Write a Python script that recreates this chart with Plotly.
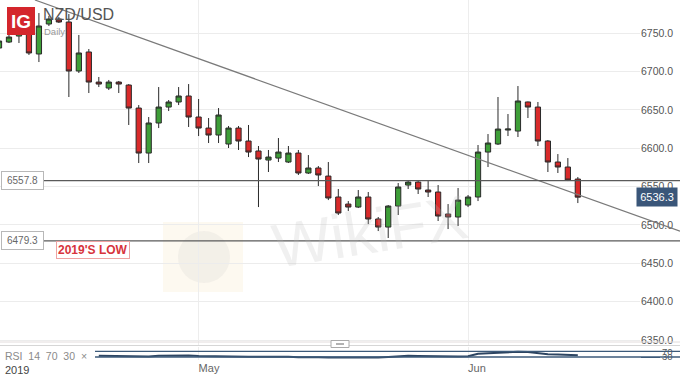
import plotly.graph_objects as go

# ---------------- data (NZD/USD daily, price x10000) ----------------
open_ = [6730.8, 6738.6, 6746.4, 6756.9, 6723.0, 6762.1, 6768.6, 6764.7, 6700.8, 6725.6,
         6686.4, 6678.6, 6686.4, 6682.5, 6652.5, 6593.8, 6633.0, 6653.8, 6660.4, 6668.2,
         6640.8, 6626.4, 6617.3, 6605.6, 6626.4, 6609.5, 6596.5, 6584.7, 6587.3, 6582.1,
         6593.8, 6567.8, 6574.3, 6563.8, 6536.5, 6527.3, 6523.4, 6536.5, 6507.8, 6497.3,
         6524.7, 6552.1, 6556.0, 6545.6, 6543.0, 6514.3, 6510.4, 6526.0, 6536.5, 6595.1,
         6605.6, 6623.8, 6622.5, 6660.4, 6653.8, 6609.5, 6582.1, 6575.6, 6559.9]
high = [6742.5, 6747.8, 6754.3, 6759.5, 6776.4, 6772.5, 6771.2, 6775.1, 6747.8, 6729.5,
        6693.0, 6689.1, 6687.8, 6683.8, 6656.4, 6640.8, 6679.9, 6663.0, 6679.9, 6683.8,
        6664.3, 6639.5, 6652.5, 6629.1, 6629.1, 6630.4, 6603.0, 6597.8, 6613.4, 6603.0,
        6597.8, 6591.2, 6576.9, 6582.1, 6546.9, 6531.2, 6545.6, 6543.0, 6510.4, 6526.0,
        6554.7, 6557.3, 6558.6, 6557.3, 6552.1, 6527.3, 6548.2, 6539.1, 6604.3, 6618.6,
        6666.9, 6644.7, 6681.2, 6661.0, 6660.4, 6610.8, 6592.5, 6587.3, 6562.5]
low = [6728.2, 6737.3, 6737.3, 6721.7, 6712.5, 6759.5, 6763.4, 6666.9, 6698.2, 6672.1,
       6679.9, 6676.0, 6672.1, 6630.4, 6580.8, 6580.8, 6626.4, 6648.6, 6656.4, 6627.8,
       6616.0, 6606.9, 6606.9, 6600.4, 6597.8, 6588.6, 6523.4, 6569.1, 6582.1, 6580.8,
       6565.2, 6566.5, 6550.8, 6532.5, 6513.0, 6518.2, 6522.1, 6501.2, 6492.1, 6483.0,
       6513.0, 6546.9, 6540.4, 6536.5, 6505.2, 6494.7, 6498.6, 6523.4, 6531.2, 6575.6,
       6604.3, 6616.0, 6614.7, 6639.5, 6603.0, 6569.1, 6567.8, 6557.3, 6528.6]
close = [6739.9, 6745.1, 6750.4, 6724.3, 6759.5, 6768.6, 6764.7, 6700.8, 6724.3, 6686.4,
         6683.8, 6686.4, 6683.8, 6652.5, 6593.8, 6633.0, 6653.8, 6660.4, 6668.2, 6640.8,
         6626.4, 6617.3, 6643.4, 6626.4, 6609.5, 6595.1, 6586.0, 6588.6, 6595.1, 6593.8,
         6567.8, 6574.3, 6565.2, 6535.2, 6515.6, 6523.4, 6536.5, 6507.8, 6497.3, 6524.7,
         6549.5, 6556.0, 6546.9, 6543.0, 6511.7, 6510.4, 6532.5, 6536.5, 6595.1, 6606.9,
         6625.1, 6625.1, 6661.7, 6653.8, 6609.5, 6582.1, 6575.6, 6558.6, 6536.3]
candle_idx = list(range(len(close)))

rsi_start = 10
rsi = [38, 36, 35, 33, 30, 33, 38, 40, 42, 40, 37, 35, 38,
       36, 34, 32, 31, 32, 33, 32, 29, 30, 28, 26, 25, 26, 28, 27, 26,
       30, 36, 38, 37, 36, 32, 31, 34, 36, 52, 56, 60, 61, 66,
       65, 56, 50, 48, 45, 42]
rsi_idx = list(range(rsi_start, rsi_start + len(rsi)))
rsi_levels = [30, 70]

price_ticks = [6350, 6400, 6450, 6500, 6550, 6600, 6650, 6700, 6750]
price_tick_text = ["%.1f" % v for v in price_ticks]
month_idx = [20, 47]
month_text = ["May", "Jun"]
year_text = "2019"

level_resist = 6557.8
level_low = 6479.3
low_text = "2019'S LOW"
last_price = 6536.3
trend_idx = [3.6, 61.2]
trend_price = [6793.4, 6524.7]

# ---------------- layout geometry ----------------
W, H = 680, 379
ML, MR, MT, MB = 0, 40, 0, 19
PW, PH = W - ML - MR, H - MT - MB
X_RANGE = [0.1, 64.23]
Y_RANGE = [6343.5, 6793.4]
RSI_RANGE = [8.9, 100.2]
MAIN_BOTTOM_PX = 345
RSI_TOP_PX = 347


def pxx(px):
    return (px - ML) / PW


def pxy(py):
    return (PH + MT - py) / PH


def idx_to_paper(i):
    return (i - X_RANGE[0]) / (X_RANGE[1] - X_RANGE[0])


FONT = "Arial, Liberation Sans, sans-serif"
GREEN = "#3e9e38"
RED = "#d92a2a"

fig = go.Figure()
fig.add_trace(go.Candlestick(
    x=candle_idx, open=open_, high=high, low=low, close=close,
    increasing=dict(fillcolor=GREEN, line=dict(color="#2a2a2a", width=1)),
    decreasing=dict(fillcolor=RED, line=dict(color="#2a2a2a", width=1)),
    whiskerwidth=0, hoverinfo="skip", showlegend=False,
    xaxis="x", yaxis="y"))
fig.add_trace(go.Scatter(
    x=rsi_idx, y=rsi, mode="lines", line=dict(color="#2d4562", width=2),
    hoverinfo="skip", showlegend=False, xaxis="x", yaxis="y2"))

shapes = []
# trendline, extended to the right edge of the page
slope = (trend_price[1] - trend_price[0]) / (trend_idx[1] - trend_idx[0])
x_end_paper = pxx(W)
i_end = X_RANGE[0] + x_end_paper * (X_RANGE[1] - X_RANGE[0])
shapes.append(dict(type="line", xref="paper", yref="y",
                   x0=idx_to_paper(trend_idx[0]), y0=trend_price[0],
                   x1=x_end_paper, y1=trend_price[0] + slope * (i_end - trend_idx[0]),
                   line=dict(color="#7a7a7a", width=1.2)))
for lv in (level_resist, level_low):
    shapes.append(dict(type="line", xref="paper", yref="y", x0=pxx(43), x1=pxx(W),
                       y0=lv, y1=lv, line=dict(color="#5a5a5a", width=1.2)))
for lv in rsi_levels:
    shapes.append(dict(type="line", xref="paper", yref="y2", x0=pxx(95), x1=pxx(W),
                       y0=lv, y1=lv, line=dict(color="#3c5a7a", width=1.3)))
# panel separator + handle
for py, col in ((342, "#e2dcdc"), (345.5, "#d6d6d6")):
    shapes.append(dict(type="line", xref="paper", yref="paper", x0=0, x1=pxx(W),
                       y0=pxy(py), y1=pxy(py), line=dict(color=col, width=1)))
shapes.append(dict(type="rect", xref="paper", yref="paper", x0=pxx(331), x1=pxx(349),
                   y0=pxy(347.5), y1=pxy(340.5), fillcolor="white",
                   line=dict(color="#aaaaaa", width=1)))
shapes.append(dict(type="line", xref="paper", yref="paper", x0=pxx(336), x1=pxx(344),
                   y0=pxy(344), y1=pxy(344), line=dict(color="#999999", width=1.5)))
# IG logo box
shapes.append(dict(type="rect", xref="paper", yref="paper", x0=pxx(7), x1=pxx(35),
                   y0=pxy(35), y1=pxy(7), fillcolor="#d4262c",
                   line=dict(width=0), layer="above"))
# faint watermark badge
shapes.append(dict(type="rect", xref="paper", yref="paper", x0=pxx(163), x1=pxx(243),
                   y0=pxy(292), y1=pxy(222), fillcolor="rgba(240,205,140,0.13)",
                   line=dict(width=0), layer="below"))
shapes.append(dict(type="circle", xref="paper", yref="paper", x0=pxx(178), x1=pxx(230),
                   y0=pxy(283), y1=pxy(231), fillcolor="rgba(190,190,190,0.15)",
                   line=dict(width=0), layer="below"))

ann = []
ann.append(dict(text="WikiFX", xref="paper", yref="paper", x=pxx(370), y=pxy(232),
                showarrow=False, textangle=-9,
                font=dict(family=FONT, size=62, color="rgba(185,185,185,0.22)"),
                xanchor="center", yanchor="middle"))
ann.append(dict(text="<b>IG</b>", xref="paper", yref="paper", x=pxx(21), y=pxy(21.5),
                showarrow=False, font=dict(family=FONT, size=19, color="white"),
                xanchor="center", yanchor="middle"))
ann.append(dict(text="NZD/USD", xref="paper", yref="paper", x=pxx(41), y=pxy(14.5),
                showarrow=False, font=dict(family=FONT, size=16, color="#555555"),
                xanchor="left", yanchor="middle"))
ann.append(dict(text="Daily", xref="paper", yref="paper", x=pxx(42), y=pxy(31),
                showarrow=False, font=dict(family=FONT, size=9.5, color="#9a9a9a"),
                xanchor="left", yanchor="middle"))
for lv in (level_resist, level_low):
    ann.append(dict(text="%.1f" % lv, xref="paper", yref="y", x=pxx(1), y=lv,
                    showarrow=False, xanchor="left", yanchor="middle",
                    font=dict(family=FONT, size=10, color="#666666"),
                    bgcolor="white", bordercolor="#b8b8b8", borderwidth=1,
                    borderpad=2, width=37, height=13))
ann.append(dict(text="<b>%s</b>" % low_text, xref="paper", yref="paper", x=pxx(56),
                y=pxy(250), showarrow=False, xanchor="left", yanchor="middle",
                font=dict(family=FONT, size=12, color="#d7343c"),
                bgcolor="white", bordercolor="#eea3a3", borderwidth=1, borderpad=1))
ann.append(dict(text="%.1f" % last_price, xref="paper", yref="y", x=pxx(657),
                y=last_price, showarrow=False, xanchor="center", yanchor="middle",
                font=dict(family=FONT, size=11, color="white"),
                bgcolor="#3a5679", borderpad=3, width=34))
ann.append(dict(text="RSI  14  70  30  \u00d7", xref="paper", yref="paper", x=pxx(3),
                y=pxy(356), showarrow=False, xanchor="left", yanchor="middle",
                font=dict(family=FONT, size=10.5, color="#8a8a8a")))
ann.append(dict(text=year_text, xref="paper", yref="paper", x=pxx(3), y=pxy(370),
                showarrow=False, xanchor="left", yanchor="middle",
                font=dict(family=FONT, size=11, color="#444444")))

fig.update_layout(
    width=W, height=H, margin=dict(l=ML, r=MR, t=MT, b=MB, pad=0),
    paper_bgcolor="white", plot_bgcolor="white", boxgap=0.25,
    showlegend=False, hovermode=False,
    xaxis=dict(range=X_RANGE, anchor="y2", tickvals=month_idx, ticktext=month_text,
               ticklabelposition="outside right", ticks="",
               tickfont=dict(family=FONT, size=11, color="#666666"),
               showgrid=True, gridcolor="#ededed", zeroline=False,
               rangeslider=dict(visible=False), fixedrange=True),
    yaxis=dict(domain=[pxy(MAIN_BOTTOM_PX), 1], range=Y_RANGE, side="right",
               tickvals=price_ticks, ticktext=price_tick_text, ticks="",
               tickfont=dict(family=FONT, size=10.5, color="#555555"),
               showgrid=True, gridcolor="#ececec", zeroline=False, fixedrange=True),
    yaxis2=dict(domain=[0, pxy(RSI_TOP_PX)], range=RSI_RANGE, side="right",
                tickvals=rsi_levels, ticktext=[str(v) for v in rsi_levels],
                ticks="outside", ticklen=19, tickcolor="#3c5a7a",
                tickfont=dict(family=FONT, size=9.5, color="#555555"),
                showgrid=False, zeroline=False, fixedrange=True),
    shapes=shapes, annotations=ann,
)

fig.write_html("out.html")
